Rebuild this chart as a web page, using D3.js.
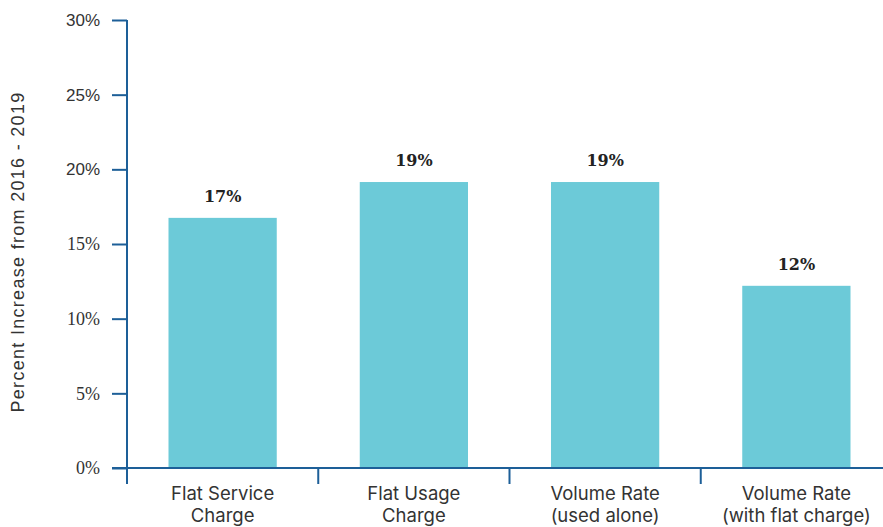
<!DOCTYPE html>
<html><head><meta charset="utf-8">
<script src="https://cdn.jsdelivr.net/npm/d3@7"></script>
<style>body{margin:0;background:#fff;}svg{display:block;}</style>
</head><body>
<svg id="chart" width="883" height="527"></svg>
<script>
const categories = [["Flat Service","Charge"],["Flat Usage","Charge"],["Volume Rate","(used alone)"],["Volume Rate","(with flat charge)"]];
const values = [16.75, 19.15, 19.15, 12.2];
const valueLabels = ["17%","19%","19%","12%"];
const yTicks = [0,5,10,15,20,25,30];
const yTitle = "Percent Increase from 2016 - 2019";

const svg = d3.select("#chart");
const axisColor = "#1d5f98";
const x = d3.scaleBand().domain(d3.range(categories.length)).range([127, 892]).padding(0);
const y = d3.scaleLinear().domain([0,30]).range([468, 20]);
const barW = x.bandwidth()*0.566;

svg.selectAll("rect.bar").data(values).join("rect")
  .attr("x",(d,i)=>x(i)+(x.bandwidth()-barW)/2)
  .attr("y",d=>y(d)).attr("width",barW).attr("height",d=>y(0)-y(d))
  .attr("fill","#6ccad8");

svg.selectAll("text.val").data(values).join("text")
  .attr("x",(d,i)=>x(i)+x.bandwidth()/2).attr("y",d=>y(d)-16)
  .attr("text-anchor","middle").attr("font-family","'DejaVu Serif', serif").attr("font-weight","bold")
  .attr("font-size",16).attr("fill","#222").text((d,i)=>valueLabels[i]);

// y axis
const yAxis = d3.axisLeft(y).tickValues(yTicks).tickFormat(d=>d+"%").tickSize(15).tickPadding(12);
const gy = svg.append("g").attr("transform","translate(127,0)").call(yAxis);
gy.select(".domain").remove();
gy.selectAll(".tick line").attr("stroke",axisColor).attr("stroke-width",2);
gy.selectAll(".tick text").attr("fill","#333")
  .attr("font-family",d=>d>=20?"'Liberation Sans', Arial, sans-serif":"'Liberation Serif', 'Times New Roman', serif")
  .attr("font-size",d=>d>=20?17:18);
svg.append("line").attr("x1",127).attr("x2",127).attr("y1",y(30)).attr("y2",484)
  .attr("stroke",axisColor).attr("stroke-width",2);

// x axis
svg.append("line").attr("x1",112).attr("x2",883).attr("y1",y(0)).attr("y2",y(0))
  .attr("stroke",axisColor).attr("stroke-width",2);
svg.selectAll("line.xt").data(d3.range(1,categories.length)).join("line")
  .attr("x1",i=>x(i)).attr("x2",i=>x(i)).attr("y1",y(0)).attr("y2",484)
  .attr("stroke",axisColor).attr("stroke-width",2);

svg.selectAll("text.cat").data(categories).join("text")
  .attr("x",(d,i)=>x(i)+x.bandwidth()/2).attr("y",500)
  .attr("text-anchor","middle").attr("font-family","Inter, sans-serif").attr("font-size",18.5).attr("fill","#333")
  .each(function(d){
    const t=d3.select(this);
    d.forEach((s,j)=>t.append("tspan").attr("x",t.attr("x")).attr("dy",j?22:0).text(s));
  });

svg.append("text").attr("transform","translate(24,252) rotate(-90)").attr("text-anchor","middle")
  .attr("font-family","'Liberation Sans', Arial, sans-serif").attr("font-size",18).attr("letter-spacing",1.3)
  .attr("fill","#333").text(yTitle);
</script>
</body></html>
